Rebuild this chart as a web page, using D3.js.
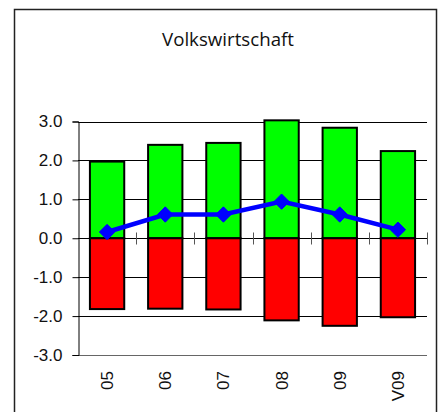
<!DOCTYPE html>
<html><head><meta charset="utf-8">
<script src="https://cdn.jsdelivr.net/npm/d3@7"></script>
<style>body{margin:0;background:#fff}svg{display:block}</style>
</head><body>
<script>
const categories = ["05","06","07","08","09","V09"];
const positive = [1.97, 2.40, 2.45, 3.03, 2.84, 2.24];
const negative = [-1.82, -1.81, -1.83, -2.11, -2.25, -2.03];
const lineVals = [0.16, 0.61, 0.61, 0.94, 0.61, 0.22];
const yTicks = [3, 2, 1, 0, -1, -2, -3];
const title = "Volkswirtschaft";

const W = 444, H = 412;
const svg = d3.select("body").append("svg").attr("width", W).attr("height", H);

svg.append("rect").attr("x", 14.5).attr("y", 9.5).attr("width", 422).attr("height", 420)
  .attr("fill", "#fff").attr("stroke", "#222").attr("stroke-width", 1.5);

svg.append("text").attr("x", 228).attr("y", 46).attr("text-anchor", "middle")
  .attr("font-family", "'Open Sans', 'DejaVu Sans', sans-serif").attr("font-size", 18.7)
  .attr("fill", "#111").text(title);

const x = d3.scaleBand().domain(categories).range([78, 427]).paddingInner(0.41).paddingOuter(0.205);
const xb = d3.scaleBand().domain(categories).range([78, 427]);
const y = d3.scaleLinear().domain([-3, 3]).range([355, 121.5]);

// gridlines
svg.append("g").selectAll("line").data(yTicks.filter(d => d !== 0)).join("line")
  .attr("x1", 78).attr("x2", 427).attr("y1", d => Math.round(y(d)) + 0.5).attr("y2", d => Math.round(y(d)) + 0.5)
  .attr("stroke", d => d === -3 ? "#666" : "#000").attr("stroke-width", 1);

// y axis
const yAxis = d3.axisLeft(y).tickValues(yTicks).tickFormat(d3.format(".1f")).tickSize(6).tickPadding(10);
const ga = svg.append("g").attr("transform", "translate(78.5,0)").call(yAxis);
ga.select(".domain").attr("stroke", "#000");
ga.selectAll(".tick line").attr("stroke", "#000");
ga.selectAll("text").attr("font-family", "'Liberation Sans', Arial, sans-serif").attr("font-size", 17).attr("fill", "#111")
  .text(d => d < 0 ? "-" + d3.format(".1f")(-d) : d3.format(".1f")(d));

// bars
svg.append("g").selectAll("rect").data(categories).join("rect")
  .attr("x", d => x(d)).attr("width", x.bandwidth())
  .attr("y", (d, i) => y(positive[i])).attr("height", (d, i) => y(0) - y(positive[i]))
  .attr("fill", "#00ff00").attr("stroke", "#000").attr("stroke-width", 2);
svg.append("g").selectAll("rect").data(categories).join("rect")
  .attr("x", d => x(d)).attr("width", x.bandwidth())
  .attr("y", y(0)).attr("height", (d, i) => y(negative[i]) - y(0))
  .attr("fill", "#ff0000").attr("stroke", "#000").attr("stroke-width", 2);

// zero axis with category ticks
const z = Math.round(y(0)) + 0.5;
svg.append("line").attr("x1", 78).attr("x2", 427).attr("y1", z).attr("y2", z).attr("stroke", "#000").attr("stroke-width", 1.2);
svg.append("g").selectAll("line").data(categories.slice(1).concat(["end"])).join("line")
  .attr("x1", (d, i) => Math.round(78 + xb.step() * (i + 1)) + 0.5)
  .attr("x2", (d, i) => Math.round(78 + xb.step() * (i + 1)) + 0.5)
  .attr("y1", z - 6).attr("y2", z + 6).attr("stroke", "#555").attr("stroke-width", 1);

// line
const cx = d => xb(d) + xb.bandwidth() / 2;
svg.append("path").datum(categories)
  .attr("d", d3.line().x(d => cx(d)).y((d, i) => y(lineVals[i])))
  .attr("fill", "none").attr("stroke", "#0000ff").attr("stroke-width", 4.5);
svg.append("g").selectAll("path").data(categories).join("path")
  .attr("transform", (d, i) => `translate(${cx(d)},${y(lineVals[i])})`)
  .attr("d", d3.symbol(d3.symbolDiamond2, 150))
  .attr("fill", "#0000ff").attr("stroke", "#0000ff").attr("stroke-width", 1);

// x labels
svg.append("g").selectAll("text").data(categories).join("text")
  .attr("transform", d => `translate(${cx(d) + 6},371) rotate(-90)`)
  .attr("text-anchor", "end")
  .attr("font-family", "'Liberation Sans', Arial, sans-serif").attr("font-size", 17).attr("fill", "#111")
  .text(d => d);
</script>
</body></html>
